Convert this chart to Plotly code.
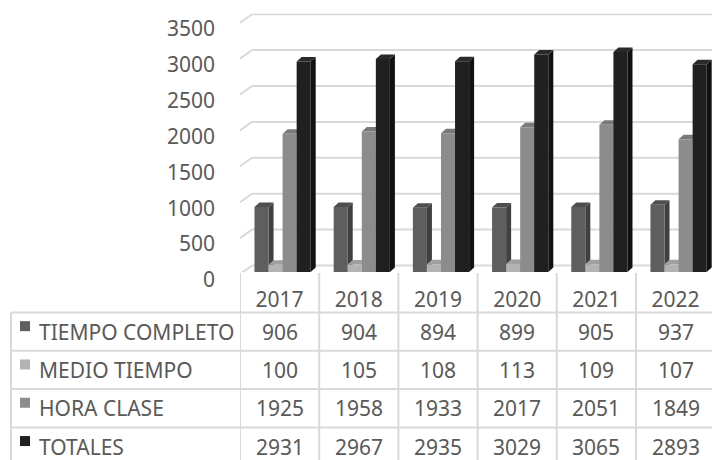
import plotly.graph_objects as go

years = ["2017", "2018", "2019", "2020", "2021", "2022"]
series_names = ["TIEMPO COMPLETO", "MEDIO TIEMPO", "HORA CLASE", "TOTALES"]
tiempo_completo = [906, 904, 894, 899, 905, 937]
medio_tiempo = [100, 105, 108, 113, 109, 107]
hora_clase = [1925, 1958, 1933, 2017, 2051, 1849]
totales = [2931, 2967, 2935, 3029, 3065, 2893]
y_ticks = [0, 500, 1000, 1500, 2000, 2500, 3000, 3500]

series_values = [tiempo_completo, medio_tiempo, hora_clase, totales]
front_colors = ["#5e5e5e", "#b3b3b3", "#8c8c8c", "#202020"]
side_colors = ["#404040", "#8e8e8e", "#6a6a6a", "#111111"]
top_colors = ["#4e4e4e", "#a0a0a0", "#7a7a7a", "#2a2a2a"]

W, H = 712, 460
FONT = "Noto Sans"
TXT = "#595959"
GRID = "#d9d9d9"
FS = 21

PLOT_LEFT = 240
PLOT_BOTTOM = 272.0
FRONT_3500 = 20.7                     # pixel row of value 3500 on the front plane
Y_MAX = 3600
X_RANGE = [-0.5, 5.46]
BARGAP = 0.29
DEPTH_X, DEPTH_Y = 5, 4.5
GRID_UP = 6.5                         # back wall is this many px above the front plane
SLANT_X = 12
BAR_SHIFT_PX = 3

def py(p):
    return (H - p) / H

def px(p):
    return p / W

K = (PLOT_BOTTOM - FRONT_3500) / 3500.0            # pixels per value unit
PLOT_TOP = PLOT_BOTTOM - Y_MAX * K
PX_PER_CAT = (W - PLOT_LEFT) / (X_RANGE[1] - X_RANGE[0])
GROUP_W = 1 - BARGAP
BAR_W = GROUP_W / len(series_values)
SHIFT = BAR_SHIFT_PX / PX_PER_CAT

fig = go.Figure()
for i, (name, vals, col) in enumerate(zip(series_names, series_values, front_colors)):
    fig.add_trace(go.Bar(x=years, y=vals, name=name, width=BAR_W,
                         offset=-GROUP_W / 2 + i * BAR_W + SHIFT,
                         marker=dict(color=col, line=dict(width=0)),
                         showlegend=False, hoverinfo="x+y+name"))

shapes = []
# back-wall gridlines (slanted at left, like a 3D wall)
g_up = GRID_UP / K
for v in y_ticks:
    shapes.append(dict(type="line", layer="below", xref="paper", yref="y",
                       x0=px(PLOT_LEFT + SLANT_X), x1=1, y0=v + g_up, y1=v + g_up,
                       line=dict(color=GRID, width=2)))
    shapes.append(dict(type="line", layer="below", xref="paper", yref="y",
                       x0=px(PLOT_LEFT), x1=px(PLOT_LEFT + SLANT_X),
                       y0=v - 2 / K, y1=v + g_up,
                       line=dict(color=GRID, width=2)))

# 3D side and top faces of each column
dy = DEPTH_Y / K
wpx = BAR_W * PX_PER_CAT
for i, vals in enumerate(series_values):
    for j, v in enumerate(vals):
        x_right = j - GROUP_W / 2 + BAR_W * (i + 1) + SHIFT
        shapes.append(dict(type="path", layer="below", xref="x", yref="y",
                           xsizemode="pixel", xanchor=x_right,
                           path=f"M 0,0 L {DEPTH_X},{dy} L {DEPTH_X},{v + dy} L 0,{v} Z",
                           fillcolor=side_colors[i], line=dict(width=0)))
        shapes.append(dict(type="path", layer="below", xref="x", yref="y",
                           xsizemode="pixel", xanchor=x_right,
                           path=f"M {-wpx},{v} L {-wpx + DEPTH_X},{v + dy} L {DEPTH_X},{v + dy} L 0,{v} Z",
                           fillcolor=top_colors[i], line=dict(width=0)))

# data table
ROW_TOP = 312.5
ROW_H = 38.3
TABLE_LEFT = 11
HEADER_TOP = 273
line_style = dict(color=GRID, width=2)
for r in range(len(series_names) + 1):
    yy = ROW_TOP + r * ROW_H
    shapes.append(dict(type="line", xref="paper", yref="paper", x0=px(TABLE_LEFT), x1=1,
                       y0=py(yy), y1=py(yy), line=line_style))
shapes.append(dict(type="line", xref="paper", yref="paper", x0=px(TABLE_LEFT), x1=px(TABLE_LEFT),
                   y0=py(ROW_TOP), y1=0, line=line_style))
for j in range(len(years) + 1):
    shapes.append(dict(type="line", xref="x", yref="paper", x0=j - 0.5, x1=j - 0.5,
                       y0=py(HEADER_TOP), y1=0, line=line_style))

annotations = []
for i, (name, vals) in enumerate(zip(series_names, series_values)):
    yc = ROW_TOP + ROW_H * (i + 0.5)
    shapes.append(dict(type="rect", xref="paper", yref="paper", x0=px(20), x1=px(30),
                       y0=py(yc - 0.5), y1=py(yc - 10.5), fillcolor=front_colors[i], line=dict(width=0)))
    annotations.append(dict(text=name, xref="paper", yref="paper", x=px(37), y=py(yc),
                            xanchor="left", yanchor="middle", showarrow=False,
                            font=dict(family=FONT, size=FS, color=TXT)))
    for j, v in enumerate(vals):
        annotations.append(dict(text=str(v), xref="x", yref="paper", x=j, y=py(yc),
                                xanchor="center", yanchor="middle", showarrow=False,
                                font=dict(family=FONT, size=FS, color=TXT)))

fig.update_layout(
    template="none",
    width=W, height=H, margin=dict(l=0, r=0, t=0, b=0, pad=0), autosize=False,
    paper_bgcolor="white", plot_bgcolor="rgba(0,0,0,0)",
    barmode="group", bargap=BARGAP, bargroupgap=0,
    font=dict(family=FONT, size=FS, color=TXT),
    xaxis=dict(type="category", categoryorder="array", categoryarray=years,
               range=X_RANGE, domain=[px(PLOT_LEFT), 1], automargin=False,
               showgrid=False, zeroline=False, showline=False, ticks="",
               tickfont=dict(family=FONT, size=FS, color=TXT), ticklabelstandoff=13),
    yaxis=dict(range=[0, Y_MAX], domain=[py(PLOT_BOTTOM), py(PLOT_TOP)], automargin=False,
               tickvals=y_ticks, showgrid=False, zeroline=False, showline=False, ticks="",
               tickfont=dict(family=FONT, size=FS, color=TXT),
               ticklabelshift=8, ticklabelstandoff=24),
    shapes=shapes, annotations=annotations,
)

fig.write_html("out.html", config={"displayModeBar": False},
               post_script="document.body.style.margin='0px';")
